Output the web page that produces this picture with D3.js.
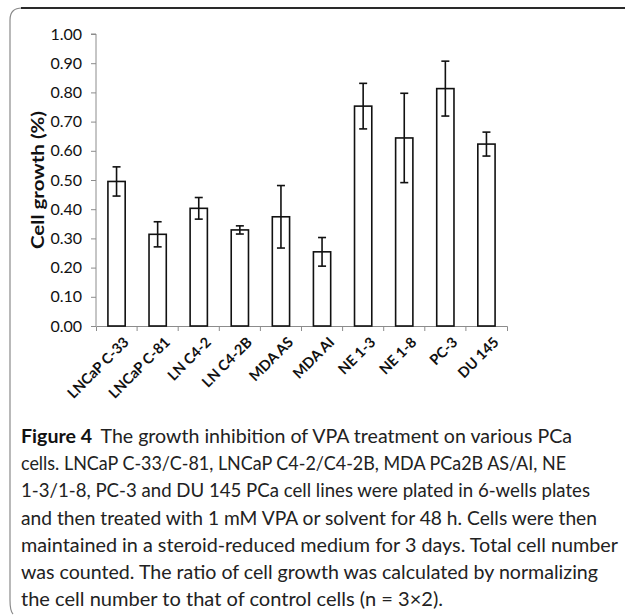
<!DOCTYPE html>
<html lang="en">
<head>
<meta charset="utf-8">
<script src="https://d3js.org/d3.v7.min.js"></script>
<style>
  * { margin: 0; padding: 0; }
  body { width: 625px; height: 615px; background: #fff; overflow: hidden; }
  .axis path, .axis line { stroke: #8c8c8c; }
  .axis text { font-family: Lato, "Open Sans", sans-serif; font-size: 16px; fill: #111; }
  .cap { font-family: Lato, "Open Sans", sans-serif; font-size: 18.5px; fill: #222; }
</style>
</head>
<body>
<script>
const cellLines = ['LNCaP C-33', 'LNCaP C-81', 'LN C4-2', 'LN C4-2B', 'MDA AS', 'MDA AI', 'NE 1-3', 'NE 1-8', 'PC-3', 'DU 145'];
const growth = [0.495, 0.314, 0.403, 0.329, 0.374, 0.254, 0.753, 0.644, 0.813, 0.623];
const errors = [0.050, 0.043, 0.037, 0.014, 0.107, 0.049, 0.078, 0.153, 0.094, 0.041];
const yTicks = [0, 0.1, 0.2, 0.3, 0.4, 0.5, 0.6, 0.7, 0.8, 0.9, 1.0];
const yTitle = 'Cell growth (%)';
const captionBold = 'Figure 4';
const captionLines = [
  'The growth inhibition of VPA treatment on various PCa',
  'cells. LNCaP C-33/C-81, LNCaP C4-2/C4-2B, MDA PCa2B AS/AI, NE',
  '1-3/1-8, PC-3 and DU 145 PCa cell lines were plated in 6-wells plates',
  'and then treated with 1 mM VPA or solvent for 48 h. Cells were then',
  'maintained in a steroid-reduced medium for 3 days. Total cell number',
  'was counted. The ratio of cell growth was calculated by normalizing',
  'the cell number to that of control cells (n = 3\u00d72).'
];
const captionEnds = [572, 566, 590, 597, 618, 598, 443];

const W = 625, H = 615;
const margin = {top: 34, left: 96, right: 118, bottom: 289};

const svg = d3.select('body').append('svg')
  .attr('width', W).attr('height', H);

// frame
svg.append('path')
  .attr('d', 'M10,600 L10,20 Q10,8 22,8')
  .attr('fill', 'none').attr('stroke', '#8a8a8a').attr('stroke-width', 1.2);
svg.append('path')
  .attr('d', 'M10,600 Q10,611 13,614')
  .attr('fill', 'none').attr('stroke', '#8a8a8a').attr('stroke-width', 1.2);
svg.append('line')
  .attr('x1', 21).attr('x2', W).attr('y1', 8).attr('y2', 8)
  .attr('stroke', '#2a2a2a').attr('stroke-width', 1.8);

const x = d3.scaleBand()
  .domain(cellLines)
  .range([margin.left, W - margin.right])
  .paddingInner(0.58).paddingOuter(0.29);
const y = d3.scaleLinear()
  .domain([0, 1])
  .range([H - margin.bottom, margin.top]);

const y0 = y(0);

// y axis
svg.append('g')
  .attr('class', 'axis')
  .attr('transform', `translate(${margin.left},0)`)
  .call(d3.axisLeft(y).tickValues(yTicks).tickSize(5).tickPadding(9).tickFormat(d3.format('.2f')))
  .call(g => g.select('.domain').attr('d', `M-5,${y(1)}H0V${y0}`));

// x axis
const xAxis = svg.append('g')
  .attr('class', 'axis')
  .attr('transform', `translate(0,${y0})`)
  .call(d3.axisBottom(x).tickSize(0).tickSizeOuter(5).tickFormat(''));
const bounds = cellLines.map(d => x(d) + x.bandwidth() / 2 - x.step() / 2).slice(1);
xAxis.selectAll('.bnd')
  .data(bounds).enter().append('line')
  .attr('x1', d => d).attr('x2', d => d)
  .attr('y1', 0).attr('y2', 5)
  .attr('stroke', '#8c8c8c');

// bars
svg.selectAll('.bar')
  .data(cellLines).enter().append('rect')
  .attr('class', 'bar')
  .attr('x', d => x(d))
  .attr('y', (d, i) => y(growth[i]))
  .attr('width', x.bandwidth())
  .attr('height', (d, i) => y0 - y(growth[i]))
  .attr('fill', '#fff').attr('stroke', '#111').attr('stroke-width', 1.6);

// error bars
const cx = d => x(d) + x.bandwidth() / 2;
const eb = svg.selectAll('.err').data(cellLines).enter().append('g').attr('class', 'err')
  .attr('stroke', '#111').attr('stroke-width', 1.6);
eb.append('line')
  .attr('x1', cx).attr('x2', cx)
  .attr('y1', (d, i) => y(growth[i] + errors[i]))
  .attr('y2', (d, i) => y(growth[i] - errors[i]));
eb.append('line')
  .attr('x1', d => cx(d) - 4).attr('x2', d => cx(d) + 4)
  .attr('y1', (d, i) => y(growth[i] + errors[i]))
  .attr('y2', (d, i) => y(growth[i] + errors[i]));
eb.append('line')
  .attr('x1', d => cx(d) - 4).attr('x2', d => cx(d) + 4)
  .attr('y1', (d, i) => y(growth[i] - errors[i]))
  .attr('y2', (d, i) => y(growth[i] - errors[i]));

// category labels
svg.selectAll('.xl')
  .data(cellLines).enter().append('text')
  .attr('class', 'xl')
  .attr('transform', d => `translate(${cx(d) + 6},${y0 + 10}) rotate(-45)`)
  .attr('text-anchor', 'end')
  .attr('dy', '0.7em')
  .style('font-family', 'Lato, "Open Sans", sans-serif')
  .style('font-size', '14.5px')
  .style('font-weight', 700)
  .style('fill', '#111')
  .text(d => d);

// y title
svg.append('text')
  .attr('transform', `translate(44,${(y(1) + y0) / 2}) rotate(-90)`)
  .attr('text-anchor', 'middle')
  .attr('textLength', 138)
  .attr('lengthAdjust', 'spacingAndGlyphs')
  .style('font-family', 'Lato, "Open Sans", sans-serif')
  .style('font-size', '16.5px')
  .style('font-weight', 700)
  .style('fill', '#111')
  .text(yTitle);

// caption
const capX = 21, capY = 443, lead = 27.2;
captionLines.forEach((line, i) => {
  const t = svg.append('text')
    .attr('class', 'cap')
    .attr('x', capX)
    .attr('y', capY + i * lead)
    .attr('textLength', captionEnds[i] - capX)
    .attr('lengthAdjust', 'spacingAndGlyphs');
  if (i === 0) {
    t.append('tspan').style('font-weight', 700).style('fill', '#111').text(captionBold);
    t.append('tspan').attr('dx', 8).text(line);
  } else {
    t.append('tspan').text(line);
  }
});
</script>
</body>
</html>
